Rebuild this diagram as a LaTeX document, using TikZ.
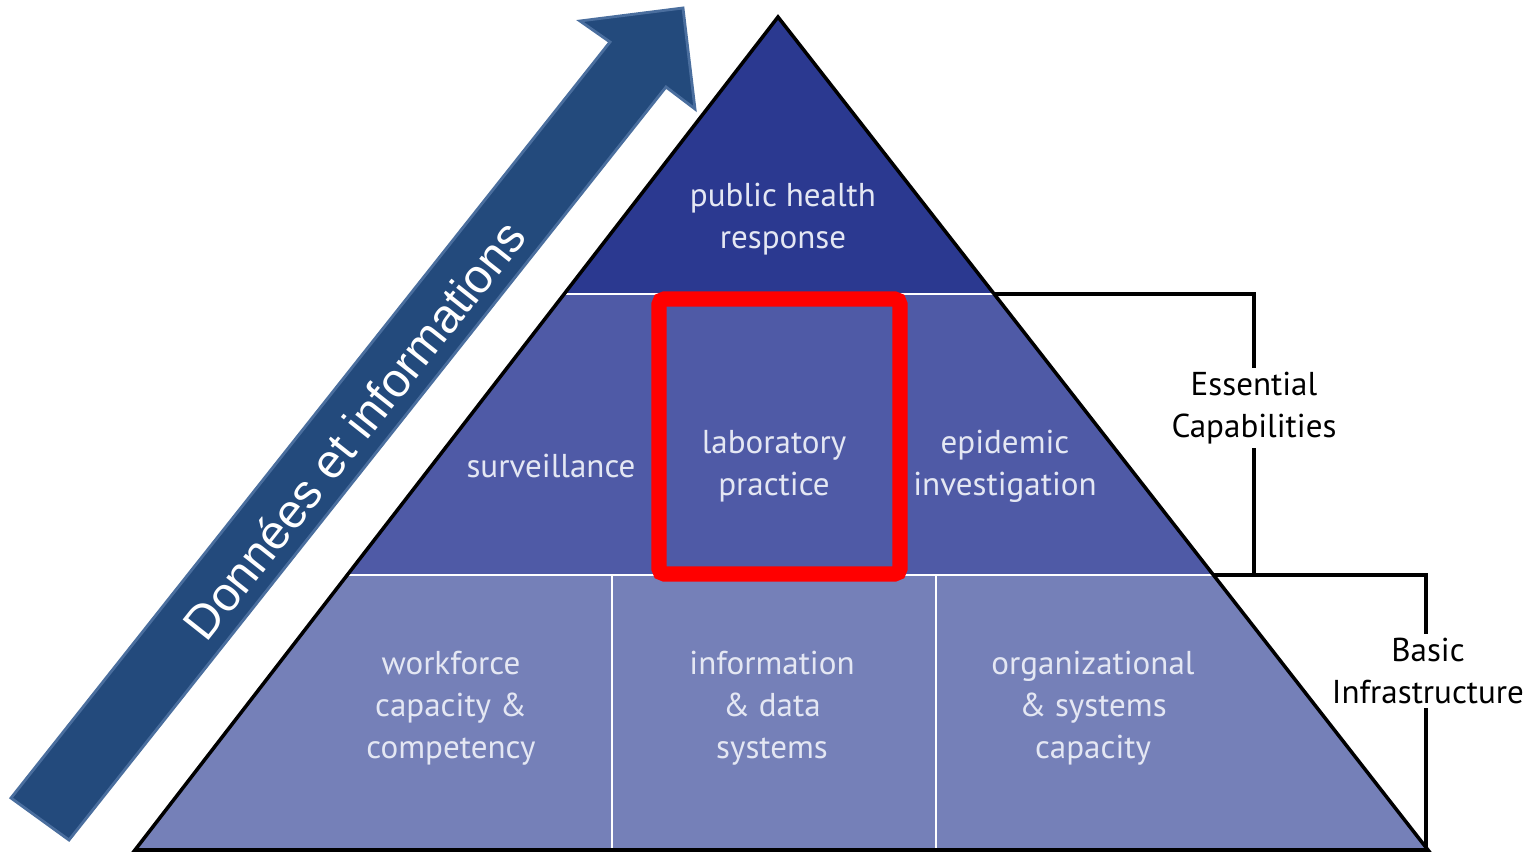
\documentclass[tikz,border=0pt]{standalone}
\usepackage{fontspec}
\setmainfont{Liberation Sans}
\newfontfamily\pyrfont{PT Sans}
\usetikzlibrary{positioning}
\usetikzlibrary{calc}
\definecolor{tiertop}{RGB}{43,57,144}
\definecolor{tiermid}{RGB}{79,90,166}
\definecolor{tierbase}{RGB}{117,128,184}
\definecolor{arrowblue}{RGB}{35,74,124}
\definecolor{arrowedge}{RGB}{74,110,158}
\definecolor{paletext}{RGB}{228,231,243}
\definecolor{focus}{RGB}{255,0,0}
\tikzset{
    pyrlabel/.style={text=paletext, align=center, font=\pyrfont\fontsize{9.4}{12}\selectfont},
    sidelabel/.style={text=black, fill=white, align=center, inner sep=1pt, font=\pyrfont\fontsize{9.4}{12}\selectfont},
    divider/.style={draw=white, line width=0.8pt},
    bracket/.style={draw=black, line width=0.9pt},
}

\begin{document}
\begin{tikzpicture}[x=0.01cm, y=-0.01cm]

    \useasboundingbox (0,0) rectangle (1535,852);

    % corners of the pyramid
    \coordinate (apex) at (778,17);
    \coordinate (topL) at (564,294);
    \coordinate (topR) at (994,294);
    \coordinate (midL) at (347,575);
    \coordinate (midR) at (1213,575);
    \coordinate (baseL) at (135,850);
    \coordinate (baseR) at (1428,850);

    \filldraw[color=tiertop] (apex) -- (topR) -- (topL) -- cycle;
    \filldraw[color=tiermid] (topL) -- (topR) -- (midR) -- (midL) -- cycle;
    \filldraw[color=tierbase] (midL) -- (midR) -- (baseR) -- (baseL) -- cycle;

    \draw[divider] (topL) -- (topR);
    \draw[divider] (midL) -- (midR);
    \draw[divider] (612,575) -- (612,850);
    \draw[divider] (936,575) -- (936,850);

    \draw[black, line width=1pt, line join=miter] (apex) -- (baseR) -- (baseL) -- cycle;

    % the arrow
    \filldraw[color=arrowblue, draw=arrowedge, line width=0.8pt]
        (11,798) -- (610,42) -- (580,21) -- (683,8) -- (695,109) -- (666,87) -- (69,840) -- cycle;
    \node[text=white, rotate=51.6, font=\fontsize{13.6}{16}\selectfont] (flow) at (354,430) {Données et informations};

    % tiers
    \node[pyrlabel] (response) at (783,219) {public health\\response};
    \node[pyrlabel] (surv) at (551,466) {surveillance};
    \node[pyrlabel] (lab) at (774,466) {laboratory\\practice};
    \node[pyrlabel] (epi) at (1005,466) {epidemic\\investigation};
    \node[pyrlabel] (workforce) at (451,708) {workforce\\capacity \&\\competency};
    \node[pyrlabel] (infodata) at (772,708) {information\\\& data\\systems};
    \node[pyrlabel] (orgsys) at (1093,708) {organizational\\\& systems\\capacity};

    \draw[focus, line width=4.3pt, rounded corners=1.5pt] (659,299) rectangle (900,574);

    % brackets at the right
    \coordinate (capTop) at (1254,294);
    \coordinate (capBot) at (1254,575);
    \coordinate (infTop) at (1426,575);
    \coordinate (infBot) at (1426,850);
    \draw[bracket] (topR) -- (capTop) -- (capBot);
    \draw[bracket] (midR) -- (infTop) -- (infBot);
    \node[sidelabel] (essential) at (1254,408) {Essential\\Capabilities};
    \node[sidelabel] (basic) at (1428,671) {Basic\\Infrastructure};

\end{tikzpicture}
\end{document}
